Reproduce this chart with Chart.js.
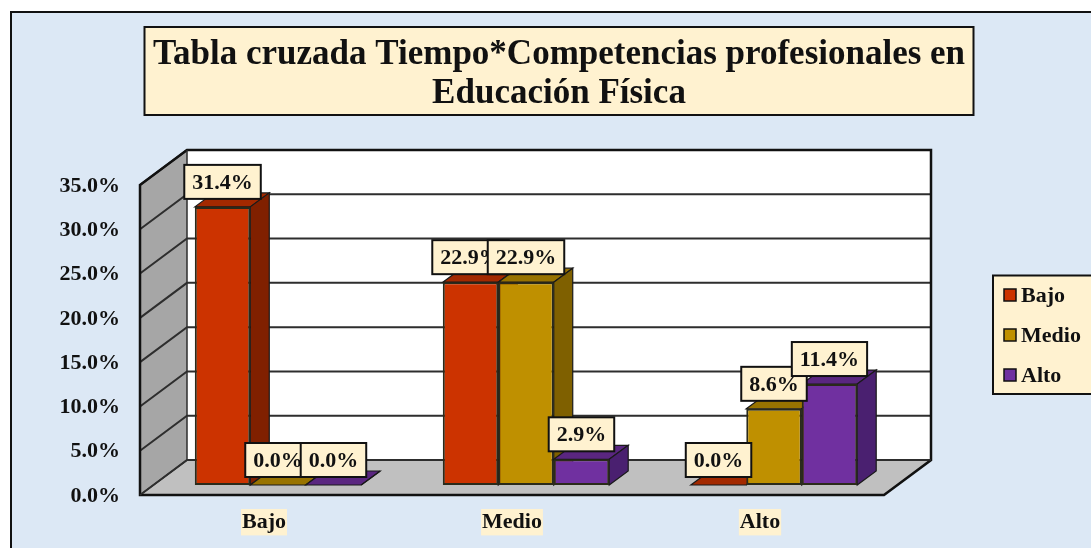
<!DOCTYPE html>
<html lang="es">
<head>
<meta charset="utf-8">
<title>Tabla cruzada</title>
<script src="https://cdn.jsdelivr.net/npm/chart.js@4/dist/chart.umd.min.js"></script>
<style>html,body{margin:0;padding:0;background:#fff}canvas{display:block}</style>
</head>
<body>
<canvas id="c" width="1091" height="548"></canvas>
<script>
const titleLines = ["Tabla cruzada Tiempo*Competencias profesionales en", "Educación Física"];
const categories = ["Bajo", "Medio", "Alto"];
const seriesNames = ["Bajo", "Medio", "Alto"];
const bajoValues = [31.4, 22.9, 0.0];
const medioValues = [0.0, 22.9, 8.6];
const altoValues = [0.0, 2.9, 11.4];
const seriesValues = [bajoValues, medioValues, altoValues];
const frontColors = ["#CC3300", "#BF9000", "#7030A0"];
const topColors = ["#A32900", "#987300", "#5A2680"];
const sideColors = ["#802000", "#7F6000", "#4A2070"];

const FONT = '"Liberation Serif", "Times New Roman", serif';
const CREAM = "#FFF2D0", BG = "#DCE8F5", INK = "#111111";
const WALL = {dx: 47, dy: -35};     // depth of the box
const PLANE = {dx: 14, dy: -10};    // where the bars stand inside the box
const BAR = {dx: 19, dy: -14};      // depth of a bar

function poly(ctx, pts, fill, stroke, lw) {
  ctx.beginPath();
  pts.forEach((p, i) => i ? ctx.lineTo(p[0], p[1]) : ctx.moveTo(p[0], p[1]));
  ctx.closePath();
  if (fill) { ctx.fillStyle = fill; ctx.fill(); }
  if (stroke) { ctx.strokeStyle = stroke; ctx.lineWidth = lw; ctx.lineJoin = "miter"; ctx.stroke(); }
}

const box3d = {
  id: "box3d",
  afterLayout(chart) {
    const t = chart.titleBlock;
    t.left = 144; t.right = 974; t.top = 35.5; t.bottom = 113.5;
  },
  beforeDraw(chart) {
    const ctx = chart.ctx, a = chart.chartArea, y = chart.scales.y;
    ctx.save();
    // page and frame
    ctx.fillStyle = "#fff"; ctx.fillRect(0, 0, chart.width, chart.height);
    ctx.fillStyle = BG; ctx.fillRect(11, 12, chart.width + 10, chart.height + 10);
    ctx.strokeStyle = INK; ctx.lineWidth = 2;
    ctx.strokeRect(11, 12, chart.width + 10, chart.height + 10);
    // title box
    ctx.fillStyle = CREAM; ctx.fillRect(144.5, 27, 829, 88);
    ctx.strokeStyle = INK; ctx.lineWidth = 2; ctx.strokeRect(144.5, 27, 829, 88);
    // walls
    const L = a.left, R = a.right, T = a.top, B = a.bottom, dx = WALL.dx, dy = WALL.dy;
    poly(ctx, [[L + dx, T + dy], [R + dx, T + dy], [R + dx, B + dy], [L + dx, B + dy]], "#FFFFFF");
    poly(ctx, [[L, T], [L + dx, T + dy], [L + dx, B + dy], [L, B]], "#A6A6A6");
    poly(ctx, [[L, B], [L + dx, B + dy], [R + dx, B + dy], [R, B]], "#C0C0C0");
    // grid lines follow the value scale
    y.ticks.forEach(t => {
      const py = y.getPixelForValue(t.value);
      ctx.beginPath();
      ctx.moveTo(L, py); ctx.lineTo(L + dx, py + dy); ctx.lineTo(R + dx, py + dy);
      ctx.strokeStyle = "#2E2E2E"; ctx.lineWidth = 2; ctx.stroke();
    });
    // outlines
    poly(ctx, [[L, T], [L + dx, T + dy], [R + dx, T + dy], [R + dx, B + dy], [R, B], [L, B]], null, INK, 2.5);
    ctx.beginPath(); ctx.moveTo(L + dx, T + dy); ctx.lineTo(L + dx, B + dy); ctx.lineTo(L, B);
    ctx.moveTo(L + dx, B + dy); ctx.lineTo(R + dx, B + dy);
    ctx.strokeStyle = "#2E2E2E"; ctx.lineWidth = 1.5; ctx.stroke();
    ctx.restore();
  },
  // Bars are painted left to right so each one sits in front of its neighbour's side.
  beforeDatasetsDraw(chart) {
    const ctx = chart.ctx;
    seriesValues.forEach((vals, i) => {
      const meta = chart.getDatasetMeta(i);
      ctx.save();
      ctx.translate(PLANE.dx, PLANE.dy);
      meta.data.forEach(b => {
        const l = b.x - b.width / 2, r = b.x + b.width / 2, t = b.y, bs = b.base;
        const dx = BAR.dx, dy = BAR.dy;
        poly(ctx, [[l, t], [l + dx, t + dy], [r + dx, t + dy], [r, t]], topColors[i], "#1a1a1a", 1.2);
        poly(ctx, [[r, t], [r + dx, t + dy], [r + dx, bs + dy], [r, bs]], sideColors[i], "#1a1a1a", 1.2);
      });
      meta.controller.draw();
      ctx.restore();
    });
  },
  beforeDatasetDraw() { return false; },
  afterDatasetsDraw(chart) {
    const ctx = chart.ctx;
    ctx.save();
    ctx.font = "bold 22px " + FONT;
    ctx.textAlign = "center";
    ctx.textBaseline = "middle";
    seriesValues.forEach((vals, i) => {
      const els = chart.getDatasetMeta(i).data;
      vals.forEach((v, j) => {
        const txt = v.toFixed(1) + "%";
        const cx = els[j].x + PLANE.dx;
        const cy = els[j].y + PLANE.dy - 25;
        const w = ctx.measureText(txt).width + 16, h = 34;
        ctx.fillStyle = CREAM; ctx.fillRect(cx - w / 2, cy - h / 2, w, h);
        ctx.strokeStyle = INK; ctx.lineWidth = 2; ctx.strokeRect(cx - w / 2, cy - h / 2, w, h);
        ctx.fillStyle = INK; ctx.fillText(txt, cx, cy + 1);
      });
    });
    // legend
    ctx.fillStyle = CREAM; ctx.fillRect(993, 275.5, 110, 118.5);
    ctx.strokeStyle = INK; ctx.lineWidth = 2; ctx.strokeRect(993, 275.5, 110, 118.5);
    ctx.textAlign = "left";
    seriesNames.forEach((name, i) => {
      const cy = 295 + i * 40;
      ctx.fillStyle = frontColors[i]; ctx.fillRect(1004, cy - 6, 12, 12);
      ctx.strokeStyle = INK; ctx.lineWidth = 1.5; ctx.strokeRect(1004, cy - 6, 12, 12);
      ctx.fillStyle = INK; ctx.fillText(name, 1021, cy + 1);
    });
    ctx.restore();
  }
};

new Chart(document.getElementById("c"), {
  type: "bar",
  data: {
    labels: categories,
    datasets: seriesNames.map((name, i) => ({
      label: name,
      data: seriesValues[i],
      backgroundColor: frontColors[i],
      borderColor: "#2a2a1a",
      borderWidth: 2,
      borderSkipped: false
    }))
  },
  options: {
    responsive: false,
    animation: false,
    events: [],
    layout: {padding: {left: 0, right: 207, top: 107, bottom: 0}},
    categoryPercentage: 0.671,
    barPercentage: 1,
    scales: {
      x: {
        grid: {display: false, drawTicks: false},
        border: {display: false},
        afterFit(s) { s.height = 53; },
        ticks: {
          color: INK, padding: 14, maxRotation: 0,
          font: {family: FONT, size: 22, weight: "bold"},
          showLabelBackdrop: true, backdropColor: CREAM, backdropPadding: {x: 1, y: 0}
        }
      },
      y: {
        min: 0, max: 35,
        grid: {display: false, drawTicks: false},
        border: {display: false},
        afterFit(s) { s.width = 140; },
        ticks: {
          stepSize: 5, color: INK, padding: 20, labelOffset: 1,
          font: {family: FONT, size: 22, weight: "bold"},
          callback: v => v.toFixed(1) + "%"
        }
      }
    },
    plugins: {
      legend: {display: false},
      tooltip: {enabled: false},
      title: {
        display: true, text: titleLines, color: INK, padding: 0,
        font: {family: FONT, size: 35, weight: "bold", lineHeight: 39 / 35}
      }
    }
  },
  plugins: [box3d]
});
</script>
</body>
</html>
